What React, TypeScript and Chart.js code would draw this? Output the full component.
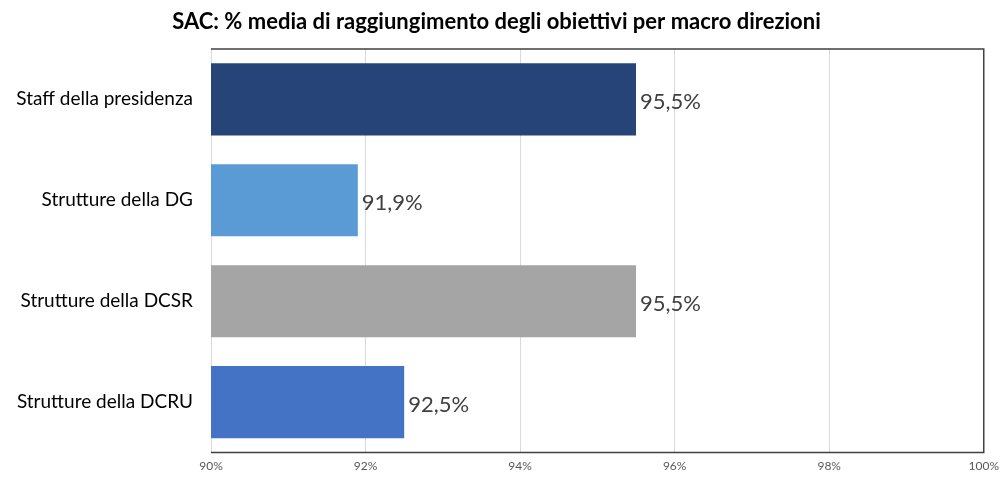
import React, { useEffect, useRef } from "react";
import { Chart, registerables } from "chart.js";

Chart.register(...registerables);

const TITLE = "SAC: % media di raggiungimento degli obiettivi per macro direzioni";
const categories = [
  "Staff della presidenza",
  "Strutture della DG",
  "Strutture della DCSR",
  "Strutture della DCRU",
];
const values = [95.5, 91.9, 95.5, 92.5];
const barColors = ["#264478", "#5B9BD5", "#A5A5A5", "#4472C4"];
const xMin = 90;
const xMax = 100;
const xStep = 2;

const fmt = (v: number) => v.toFixed(1).replace(".", ",") + "%";

const labelPlugin = {
  id: "valueLabels",
  afterDatasetsDraw(chart: any) {
    const ctx = chart.ctx;
    const meta = chart.getDatasetMeta(0);
    ctx.save();
    ctx.font = "22px Lato";
    ctx.fillStyle = "#404040";
    ctx.textAlign = "left";
    ctx.textBaseline = "middle";
    meta.data.forEach((bar: any, i: number) => {
      ctx.fillText(fmt(values[i]), bar.x + 4, bar.y + 3);
    });
    ctx.restore();
  },
};

const framePlugin = {
  id: "frame",
  afterDraw(chart: any) {
    const { ctx, chartArea } = chart;
    ctx.save();
    ctx.strokeStyle = "#404040";
    ctx.lineWidth = 1.5;
    ctx.beginPath();
    ctx.moveTo(chartArea.left, chartArea.top);
    ctx.lineTo(chartArea.right, chartArea.top);
    ctx.lineTo(chartArea.right, chartArea.bottom);
    ctx.lineTo(chartArea.left, chartArea.bottom);
    ctx.stroke();
    ctx.restore();
  },
};

export default function App() {
  const ref = useRef<HTMLCanvasElement>(null);
  useEffect(() => {
    if (!ref.current) return;
    const chart = new Chart(ref.current, {
      type: "bar",
      data: {
        labels: categories,
        datasets: [
          {
            data: values,
            backgroundColor: barColors,
            barPercentage: 0.714,
            categoryPercentage: 1,
          },
        ],
      },
      options: {
        indexAxis: "y",
        animation: false,
        responsive: false,
        layout: { padding: { left: 8, right: 20, top: 0, bottom: 0 } },
        plugins: {
          legend: { display: false },
          tooltip: { enabled: false },
          title: {
            display: true,
            text: TITLE,
            color: "#000000",
            font: { family: "Lato", size: 22, weight: "bold" },
            padding: { top: 9, bottom: 13.5 },
          },
        },
        scales: {
          x: {
            min: xMin,
            max: xMax,
            ticks: {
              stepSize: xStep,
              callback: (v: any) => v + "%",
              color: "#595959",
              font: { family: "Lato", size: 12 },
              padding: 6,
            },
            grid: { color: "#D9D9D9", drawTicks: false, lineWidth: 1 },
            border: { display: false },
            afterFit: (s: any) => {
              s.height = 25;
            },
          },
          y: {
            ticks: {
              color: "#000000",
              font: { family: "Lato", size: 19 },
              padding: 18,
            },
            grid: { display: false, drawTicks: false },
            border: { display: false },
            afterFit: (s: any) => {
              s.width = 203;
            },
          },
        },
      },
      plugins: [labelPlugin, framePlugin],
    });
    return () => chart.destroy();
  }, []);
  return (
    <div style={{ position: "fixed", left: 0, top: 0, width: 1005, height: 482, background: "#fff" }}>
      <canvas ref={ref} width={1005} height={482} />
    </div>
  );
}
